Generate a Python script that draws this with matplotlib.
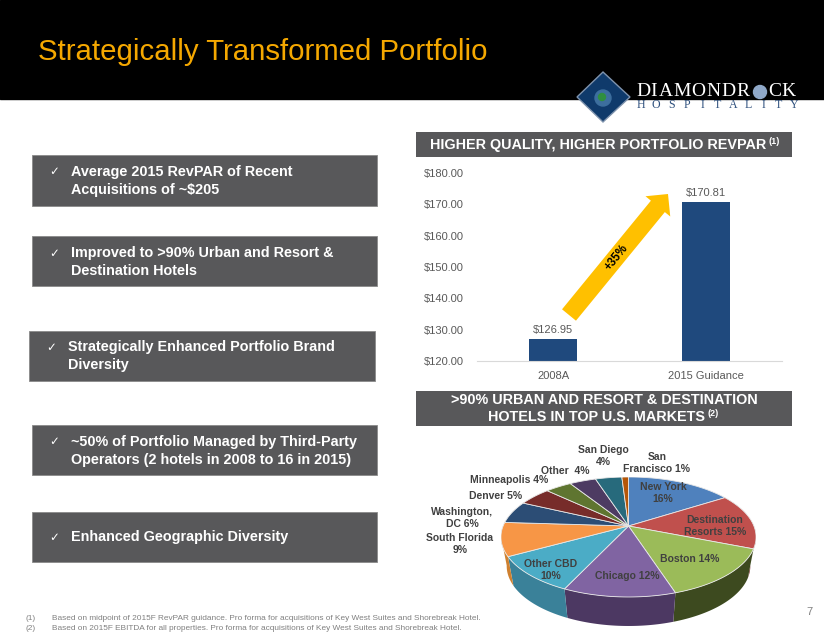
import numpy as np
from matplotlib import pyplot as plt
from matplotlib.patches import Rectangle, Polygon, Circle, FancyArrow

plt.rcParams['font.family'] = ['Liberation Sans', 'DejaVu Sans']

# bar chart data
bar_labels = ['2008A', '2015 Guidance']
bar_values = [126.95, 170.81]
bar_ticks = [120, 130, 140, 150, 160, 170, 180]

# pie data, clockwise from 12 o'clock
pie_values = [16, 15, 14, 12, 10, 9, 6, 5, 4, 4, 4, 1]
pie_colors = ['#4f81bd', '#c0504d', '#9bbb59', '#8064a2', '#4bacc6', '#f79646',
              '#2c4d75', '#772c2a', '#5f7530', '#4d3b62', '#276a7c', '#b65708']
side_colors = ['#3a5f8c', '#7a2f2d', '#3d4a1f', '#4c3862', '#3a8199', '#cf802f',
               '#1f3a5a', '#5a2020', '#45551f', '#3a2c4a', '#1c4f5d', '#8a4206']

bullets = [
    (49, 71, 172, ['Average 2015 RevPAR of Recent', 'Acquisitions of ~$205']),
    (49, 71, 253, ['Improved to >90% Urban and Resort &', 'Destination Hotels']),
    (46, 68, 347, ['Strategically Enhanced Portfolio Brand', 'Diversity']),
    (49, 71, 442, ['~50% of Portfolio Managed by Third-Party', 'Operators (2 hotels in 2008 to 16 in 2015)']),
    (49, 71, 537, ['Enhanced Geographic Diversity']),
]
bullet_boxes = [(32, 155, 345, 51), (32, 236, 345, 50), (29, 331, 346, 50),
                (32, 425, 345, 50), (32, 512, 345, 50)]

# text, x, y in picture pixels
pie_labels = [
    ('San Diego\n4%', 603, 456), ('San\nFrancisco 1%', 657, 463), ('Other  4%', 565, 471),
    ('Minneapolis 4%', 509, 480), ('Denver 5%', 496, 496), ('Washington,\nDC 6%', 462, 518),
    ('South Florida\n9%', 460, 544), ('New York\n16%', 663, 493),
    ('Destination\nResorts 15%', 715, 526), ('Boston 14%', 690, 559),
    ('Chicago 12%', 627, 576), ('Other CBD\n10%', 551, 570),
]

W, H = 824, 637
fig = plt.figure(figsize=(W / 100, H / 100), dpi=100, facecolor='white')


def px_axes(x0, y0, x1, y1, **kw):
    return fig.add_axes([x0 / W, 1 - y1 / H, (x1 - x0) / W, (y1 - y0) / H], **kw)


# page layer, in pixels
page = px_axes(0, 0, W, H)
page.set_xlim(0, W)
page.set_ylim(H, 0)
page.axis('off')
page.set_zorder(3)
page.add_patch(Rectangle((0, 0), W, 99, color='black'))
page.text(38, 52, 'Strategically Transformed Portfolio', color='#f5a800', fontsize=21.2, va='center')

# logo
page.add_patch(Polygon([(577, 97), (603, 72), (630, 97), (603, 122)], fc='#0f3a6b', ec='#7f93ad', lw=1))
page.add_patch(Circle((603, 98), 8, color='#3d6f9e'))
page.add_patch(Circle((602, 97), 3.5, color='#2f8f3f'))
for ch, x in zip('DIAMONDRCK', [643, 654, 666, 682, 698, 713, 728, 743, 775, 788]):
    page.text(x, 92, ch, color='white', family='Liberation Serif', fontsize=14, ha='center', va='center')
page.add_patch(Circle((760, 92), 6.5, color='#8fa8c8'))
for ch, x in zip('HOSPITALITY', np.linspace(641, 794, 11)):
    page.text(x, 105, ch, color='#2d4f7c', family='Liberation Serif', fontsize=8.6, ha='center', va='center')

# left boxes
for (x, y, w, h) in bullet_boxes:
    page.add_patch(Rectangle((x, y), w, h, fc='#58585a', ec='#8a8a8a', lw=0.6))
for (cx, tx, y0, lines) in bullets:
    page.text(cx, y0, '\u2713', color='white', fontsize=8.5, family='DejaVu Sans', ha='left', va='center')
    for i, line in enumerate(lines):
        page.text(tx, y0 + i * 18, line, color='white', fontsize=10.4, fontweight='bold', va='center')

# section headers
page.add_patch(Rectangle((416, 132), 376, 25, fc='#58585a', lw=0))
page.text(430, 145, 'HIGHER QUALITY, HIGHER PORTFOLIO REVPAR', color='white', fontsize=10.4, fontweight='bold', va='center')
page.text(769, 142, '(1)', color='white', fontsize=6.5, fontweight='bold', va='center')
page.add_patch(Rectangle((416, 391), 376, 35, fc='#58585a', lw=0))
page.text(604, 400, '>90% URBAN AND RESORT & DESTINATION', color='white', fontsize=10.4, fontweight='bold', ha='center', va='center')
page.text(597, 417, 'HOTELS IN TOP U.S. MARKETS', color='white', fontsize=10.4, fontweight='bold', ha='center', va='center')
page.text(708, 414, '(2)', color='white', fontsize=6.5, fontweight='bold', va='center')

# footnotes
notes = ['Based on midpoint of 2015F RevPAR guidance. Pro forma for acquisitions of Key West Suites and Shorebreak Hotel.',
         'Based on 2015F EBITDA for all properties. Pro forma for acquisitions of Key West Suites and Shorebreak Hotel.']
for i, n in enumerate(notes):
    page.text(26, 619 + i * 9, '(%d)' % (i + 1), color='#808080', fontsize=5.95, va='center')
    page.text(52, 619 + i * 9, n, color='#808080', fontsize=5.95, va='center')
page.text(806, 612, '7', color='#808080', fontsize=8, va='center')

# bar chart
ax = px_axes(477, 173, 782, 361)
ax.patch.set_alpha(0)
ax.bar(bar_labels, bar_values, width=0.314, color='#1f497d')
ax.set_xlim(-0.5, 1.5)
ax.set_ylim(120, 180)
ax.set_yticks(bar_ticks)
ax.set_yticklabels(['$%.2f' % t for t in bar_ticks])
ax.tick_params(length=0, labelsize=8, labelcolor='#595959')
ax.tick_params(axis='y', pad=9.4)
ax.tick_params(axis='x', pad=7)
for s in ['top', 'left', 'right']:
    ax.spines[s].set_visible(False)
ax.spines['bottom'].set_color('#d9d9d9')
for i, v in enumerate(bar_values):
    ax.text(i, v + 1.2, '$%.2f' % v, ha='center', va='bottom', fontsize=8, color='#595959')

# growth arrow
page.add_patch(FancyArrow(569, 315, 99, -121, width=18, head_width=32, head_length=16,
                          length_includes_head=True, color='#ffc000', lw=0))
page.text(617, 258, '+35%', rotation=51, color='black', fontsize=8.3, fontweight='bold',
          ha='center', va='center', rotation_mode='anchor')

# pie seen in perspective, pixel units around its centre
pie = px_axes(501, 477, 756, 640)
pie.set_xlim(-127.5, 127.5)
pie.set_ylim(-114, 49)
pie.axis('off')
pie.set_zorder(1)
persp = 0.183
depth = 29

fracs = np.cumsum([0] + pie_values) / sum(pie_values) * 360


def flat(theta):
    s, c = np.sin(theta), np.cos(theta)
    return 125.4 * s / (1 + persp * c), 58 * c / (1 + persp * c)


for i in range(len(pie_values)):
    a0, a1 = max(fracs[i], 100), min(fracs[i + 1], 260)
    if a1 > a0:
        t = np.radians(np.linspace(a0, a1, 60))
        x, y = flat(t)
        pie.fill(np.r_[x, x[::-1] * 0.955], np.r_[y, y[::-1] - depth], color=side_colors[i], lw=0)
for i in range(len(pie_values)):
    t = np.radians(np.linspace(fracs[i], fracs[i + 1], 60))
    x, y = flat(t)
    pie.fill(np.r_[0, x], np.r_[0, y], fc=pie_colors[i], ec='#e8e8e8', lw=0.6)

for txt, x, y in pie_labels:
    page.text(x, y, txt, color='#404040', fontsize=7.5, fontweight='bold', ha='center', va='center', linespacing=1.2)

fig.savefig('out.png', dpi=100)
